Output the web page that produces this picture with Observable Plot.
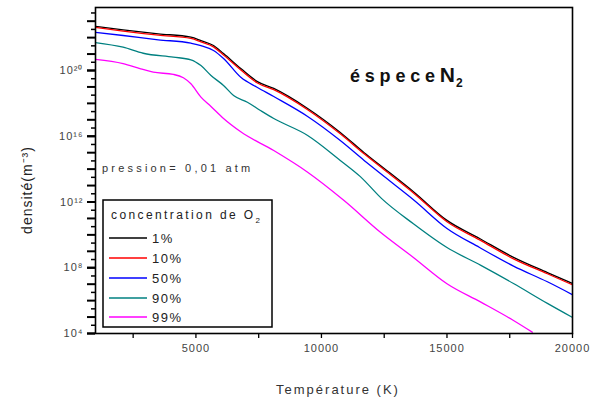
<!DOCTYPE html>
<html><head><meta charset="utf-8">
<script src="https://cdn.jsdelivr.net/npm/d3@7"></script>
<script src="https://cdn.jsdelivr.net/npm/@observablehq/plot@0.6"></script>
<style>
body{margin:0;background:#fff;}
#wrap{width:601px;height:401px;}
</style></head><body><div id="wrap"></div>
<script>
// Series / legend
const series = ["1%", "10%", "50%", "90%", "99%"];
const colors = ["#000000", "#ff0000", "#0000ff", "#008080", "#ff00ff"];

// Temperatures (K)
const tempsA = [1000, 2100, 3500, 4800, 5200, 5700, 6100, 6800, 7450, 8100, 9450, 10750, 11700, 12500, 13700, 15000, 16300, 17650, 19000, 20000];
const tempsTeal = [1000, 2100, 2900, 4100, 4800, 5200, 5600, 6100, 6500, 7050, 7570, 8100, 9450, 10750, 11550, 12400, 13650, 15000, 16350, 17650, 19000, 20000];
const tempsMag = [1000, 2100, 2800, 3300, 4100, 4500, 4800, 5200, 5600, 6100, 6800, 8100, 9450, 10900, 12350, 13650, 15000, 16350, 17650, 18400];

// Densities (m^-3)
const n1 = [4.9e22, 3.0e22, 1.7e22, 1.07e22, 6.6e21, 3.3e21, 1.07e21, 1.26e20, 2.1e19, 8.1e18, 4.9e17, 1.7e16, 1.0e15, 1.1e14, 3.8e12, 7.6e10, 6.0e9, 4.3e8, 5.1e7, 1.1e7];
const n10 = [4.2e22, 2.5e22, 1.4e22, 8.9e21, 5.5e21, 2.75e21, 8.9e20, 1.05e20, 1.75e19, 6.8e18, 4.1e17, 1.4e16, 8.5e14, 9.1e13, 3.2e12, 6.3e10, 5.0e9, 3.5e8, 4.3e7, 9.1e6];
const n50 = [2.1e22, 1.35e22, 7.4e21, 4.6e21, 3.3e21, 1.66e21, 5.4e20, 3.7e19, 9.3e18, 2.6e18, 1.6e17, 5.5e15, 3.4e14, 3.5e13, 1.23e12, 2.45e10, 1.7e9, 1.26e8, 1.4e7, 2.3e6];
const n90 = [5.0e21, 2.6e21, 1.12e21, 6.5e20, 4.5e20, 2.0e20, 5.0e19, 1.23e19, 3.0e18, 1.17e18, 3.7e17, 1.2e17, 1.12e16, 3.4e14, 3.5e13, 1.6e12, 4.9e10, 1.7e9, 1.4e8, 1.1e7, 6.8e5, 9.5e4];
const n99 = [4.7e20, 2.6e20, 1.26e20, 7.9e19, 5.8e19, 3.6e19, 1.55e19, 2.4e18, 6.5e17, 1.2e17, 1.8e16, 1.35e15, 6.5e13, 1.23e12, 1.45e10, 4.4e8, 1.07e7, 8.1e5, 6.2e4, 1.2e4];

// Tick values / labels
const xMajor = [5000, 10000, 15000, 20000];
const xMinor = [2500, 7500, 12500, 17500];
const yLabeled = [1e4, 1e8, 1e12, 1e16, 1e20];
const yLabels = ["10⁴", "10⁸", "10¹²", "10¹⁶", "10²⁰"];
const yDecades = [1e4,1e5,1e6,1e7,1e8,1e9,1e10,1e11,1e12,1e13,1e14,1e15,1e16,1e17,1e18,1e19,1e20,1e21,1e22,1e23];
const yHalf = yDecades.map(d => d * Math.sqrt(10));

const data = [];
function add(name, xs, ys) { xs.forEach((x, i) => data.push({serie: name, T: x, n: ys[i]})); }
add(series[0], tempsA, n1);
add(series[1], tempsA, n10);
add(series[2], tempsA, n50);
add(series[3], tempsTeal, n90);
add(series[4], tempsMag, n99);

const chart = Plot.plot({
  width: 601, height: 401,
  marginLeft: 95, marginRight: 29, marginTop: 7, marginBottom: 68,
  style: {fontFamily: "'Liberation Sans', Arial, sans-serif", fontSize: "11px", background: "white", color: "#444", letterSpacing: "1px"},
  x: {domain: [1000, 20000]},
  y: {type: "log", domain: [1e4, 6.8e23]},
  color: {domain: series, range: colors},
  marks: [
    Plot.line(data, {x: "T", y: "n", z: "serie", stroke: "serie", strokeWidth: 1.3, curve: "monotone-x", clip: true}),
    Plot.axisX({ticks: xMajor, tickSize: 5, tickPadding: 6, tickFormat: d => String(d), label: null, stroke: "black", strokeWidth: 1.3}),
    Plot.axisX({ticks: xMinor, tickSize: 5, tickFormat: () => "", label: null, stroke: "black", strokeWidth: 1.3}),
    Plot.axisY({ticks: yLabeled, tickSize: 8, tickPadding: 4, tickFormat: d => yLabels[yLabeled.indexOf(d)], label: null, stroke: "black", strokeWidth: 2}),
    Plot.axisY({ticks: yDecades, tickSize: 8, tickFormat: () => "", label: null, stroke: "black", strokeWidth: 2}),
    Plot.axisY({ticks: yHalf, tickSize: 4, tickFormat: () => "", label: null, stroke: "black", strokeWidth: 1.5}),
    Plot.frame({stroke: "black", strokeWidth: 1.6})
  ]
});

document.getElementById("wrap").appendChild(chart);
const svg = d3.select(chart);
const F = "'Liberation Sans', Arial, sans-serif";

// Axis labels
svg.append("text").attr("transform", "translate(32,190) rotate(-90)").attr("text-anchor", "middle")
  .attr("font-family", F).attr("font-size", 14).attr("fill", "#222").attr("letter-spacing", "1px").text("densité(m⁻³)");
svg.append("text").attr("x", 338).attr("y", 394).attr("text-anchor", "middle")
  .attr("font-family", F).attr("font-size", 13).attr("fill", "#333").attr("letter-spacing", "2px").text("Température (K)");

// Title
const ttl = svg.append("text").attr("x", 350).attr("y", 82).attr("text-anchor", "start")
  .attr("font-family", F).attr("font-weight", "bold").attr("fill", "#111");
ttl.append("tspan").attr("font-size", 18).attr("letter-spacing", "4.8px").text("éspece");
ttl.append("tspan").attr("font-size", 21).attr("letter-spacing", "1px").text("N");
ttl.append("tspan").attr("font-size", 12).attr("dy", 5).text("2");

// Pressure note
svg.append("text").attr("x", 102).attr("y", 172).attr("text-anchor", "start").attr("font-family", F).attr("font-size", 11)
  .attr("fill", "#333").attr("letter-spacing", "3.2px").text("pression= 0,01 atm");

// Legend
const lg = svg.append("g").attr("text-anchor", "start");
lg.append("rect").attr("x", 103).attr("y", 200).attr("width", 169).attr("height", 127)
  .attr("fill", "white").attr("stroke", "black").attr("stroke-width", 1.5);
const lt = lg.append("text").attr("x", 111).attr("y", 219).attr("font-family", F).attr("font-size", 12)
  .attr("fill", "#222").attr("letter-spacing", "2.4px");
lt.append("tspan").text("concentration de O");
lt.append("tspan").attr("font-size", 8).attr("dy", 4).text("2");
const rowY = [238, 258, 278, 298, 317];
series.forEach((s, i) => {
  lg.append("line").attr("x1", 109).attr("x2", 147).attr("y1", rowY[i]).attr("y2", rowY[i])
    .attr("stroke", colors[i]).attr("stroke-width", 1.3);
  lg.append("text").attr("x", 152).attr("y", rowY[i] + 5).attr("font-family", F).attr("font-size", 13)
    .attr("fill", "#222").attr("letter-spacing", "1.5px").text(s);
});
</script></body></html>
